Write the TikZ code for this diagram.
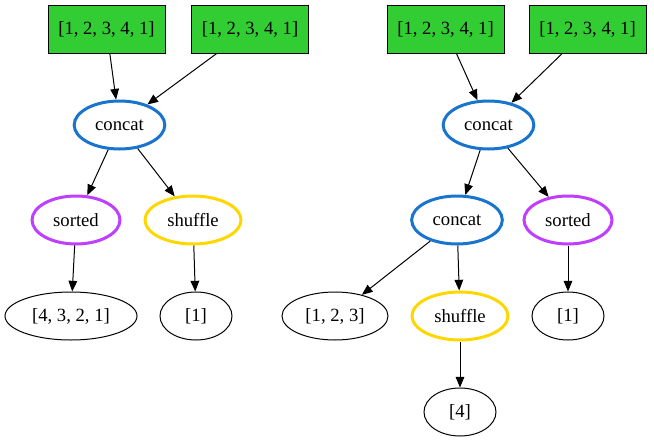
\documentclass[tikz,border=0pt]{standalone}
\usepackage{fontspec}
\setmainfont{Liberation Serif}
\usetikzlibrary{arrows.meta,shapes.geometric}
\definecolor{listgreen}{HTML}{32CD32}
\definecolor{opblue}{HTML}{1874CD}
\definecolor{oppurple}{HTML}{BF3EFF}
\definecolor{opgold}{HTML}{FFD700}
\begin{document}
\begin{tikzpicture}[x=0.75pt,y=-0.75pt,
    font=\fontsize{14}{16}\selectfont,
    list/.style={shape=rectangle,draw=black,fill=listgreen,line width=0.75pt,minimum width=87.75pt,minimum height=36pt,inner sep=0pt},
    val/.style={shape=ellipse,draw=black,line width=0.75pt,minimum height=36pt,inner sep=0pt},
    op/.style={shape=ellipse,line width=2.25pt,minimum height=36pt,inner sep=0pt},
    every edge/.style={draw=black,line width=0.75pt,-{Triangle[length=8pt,width=6.5pt]}}]
    \useasboundingbox (0,0) rectangle (654,443);
    % left tree
    \node[list] (ListA) at (106.5,29) {[1, 2, 3, 4, 1]};
    \node[list] (ListB) at (250,29) {[1, 2, 3, 4, 1]};
    \node[op,draw=opblue,minimum width=68pt] (ConcatL) at (119.5,125) {concat};
    \node[op,draw=oppurple,minimum width=66pt] (SortedL) at (76,220) {sorted};
    \node[op,draw=opgold,minimum width=72pt] (ShuffleL) at (193,220) {shuffle};
    \node[val,minimum width=99pt] (ResA) at (71,316) {[4, 3, 2, 1]};
    \node[val,minimum width=54pt] (ResB) at (196,316) {[1]};
    \path (ListA) edge (ConcatL);
    \path (ListB) edge (ConcatL);
    \path (ConcatL) edge (SortedL);
    \path (ConcatL) edge (ShuffleL);
    \path (SortedL) edge (ResA);
    \path (ShuffleL) edge (ResB);
    % right tree
    \node[list] (ListC) at (445.5,29) {[1, 2, 3, 4, 1]};
    \node[list] (ListD) at (587.5,29) {[1, 2, 3, 4, 1]};
    \node[op,draw=opblue,minimum width=68pt] (ConcatR) at (488.5,125) {concat};
    \node[op,draw=opblue,minimum width=68pt] (ConcatS) at (457,220) {concat};
    \node[op,draw=oppurple,minimum width=66pt] (SortedR) at (568,220) {sorted};
    \node[val,minimum width=79.5pt] (ResC) at (335,316) {[1, 2, 3]};
    \node[op,draw=opgold,minimum width=72pt] (ShuffleR) at (460,316) {shuffle};
    \node[val,minimum width=54pt] (ResD) at (568,316) {[1]};
    \node[val,minimum width=54pt] (ResE) at (460,412) {[4]};
    \path (ListC) edge (ConcatR);
    \path (ListD) edge (ConcatR);
    \path (ConcatR) edge (ConcatS);
    \path (ConcatR) edge (SortedR);
    \path (ConcatS) edge (ResC);
    \path (ConcatS) edge (ShuffleR);
    \path (SortedR) edge (ResD);
    \path (ShuffleR) edge (ResE);
\end{tikzpicture}
\end{document}
